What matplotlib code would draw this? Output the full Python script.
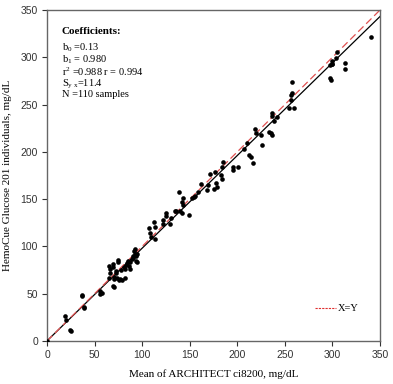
import matplotlib
matplotlib.use("Agg")
import matplotlib.pyplot as plt
from matplotlib.lines import Line2D
import numpy as np

# Data (Mean of ARCHITECT ci8200 vs HemoCue)
architect = [0, 19, 20, 24, 25, 37, 37, 39, 39, 56, 56, 58,
             65, 66, 66, 65, 69, 69, 70, 70, 69, 70, 72, 73, 74, 75, 75, 76, 77, 78,
             79, 82, 81, 82, 83, 84, 85, 86, 87, 87, 89, 90, 91, 92, 92, 94, 95, 95, 94, 90,
             107, 108, 109, 112, 113, 114, 122, 122, 125, 125, 129, 130, 134, 136, 139, 140,
             142, 142, 143, 143, 149, 152, 154, 156, 159, 162, 168, 169, 171, 175, 177, 178,
             179, 183, 184, 185, 184, 196, 201, 195, 207, 210, 212, 214, 217, 219, 220, 225,
             226, 233, 235, 236, 236, 236, 239, 242, 254, 256, 256, 258, 258, 260,
             297, 299, 299, 297, 298, 299, 304, 305, 313, 313, 340]
hemocue = [0, 26, 22, 12, 11, 49, 48, 36, 35, 53, 50, 51,
           79, 76, 72, 67, 81, 78, 68, 66, 58, 57, 74, 72, 67, 86, 84, 65, 66, 75,
           64, 67, 78, 76, 80, 82, 85, 79, 76, 83, 87, 90, 95, 97, 92, 90, 92, 84, 85, 88,
           119, 114, 110, 126, 121, 108, 128, 124, 135, 132, 124, 130, 137, 137, 158, 137,
           135, 147, 144, 151, 133, 151, 152, 153, 158, 166, 160, 165, 177, 161, 179, 167,
           163, 176, 171, 189, 184, 184, 184, 181, 203, 209, 197, 195, 188, 224, 220, 218,
           207, 221, 220, 218, 241, 238, 233, 237, 246, 255, 260, 262, 274, 246,
           292, 296, 293, 278, 276, 293, 299, 306, 294, 288, 321]

b0, b1 = 0.13, 0.980
x_line = [0, 350]

plt.rcParams['font.family'] = ['Liberation Sans', 'DejaVu Sans']
plt.rcParams['mathtext.fontset'] = 'custom'
plt.rcParams['mathtext.rm'] = 'Liberation Serif'
plt.rcParams['mathtext.it'] = 'Liberation Serif:italic'

fig = plt.figure(figsize=(3.93, 3.84), dpi=100)
ax = fig.add_axes([0.1196, 0.112, 0.8474, 0.862])

ax.scatter(architect, hemocue, s=11, color='black', zorder=3, linewidths=0)
reg = np.array(x_line)
ax.plot(reg, b0 + b1 * reg, color='black', lw=0.9, zorder=2)
ax.plot(x_line, x_line, color='#e05050', lw=0.9, ls=(0, (6, 3)), zorder=2)

ax.set_xlim(0, 350)
ax.set_ylim(0, 350)
ticks = [0, 50, 100, 150, 200, 250, 300, 350]
ax.set_xticks(ticks)
ax.set_yticks(ticks)
ax.tick_params(direction='out', length=3.5, width=0.8, labelsize=7.5, colors='#333333',
               top=False, right=False, pad=3)
for s in ax.spines.values():
    s.set_color('#666666')
    s.set_linewidth(1.0)

serif = ['Liberation Serif', 'DejaVu Serif']
ax.set_xlabel('Mean of ARCHITECT ci8200, mg/dL', family=serif, fontsize=8, labelpad=7)
ax.set_ylabel('HemoCue Glucose 201 individuals, mg/dL', family=serif, fontsize=8, labelpad=6)

ax.text(0.045, 0.948, 'Coefficients:', transform=ax.transAxes, family=serif,
        fontsize=8, fontweight='bold', va='top')
lines = [r'b$_0$ =0.13', r'b$_1$ = 0.980', r'r$^2$ =0.988 r = 0.994',
         r'S$_{\mathregular{y\ x}}$=11.4', 'N =110 samples']
for i, t in enumerate(lines):
    ax.text(0.045, 0.906 - i * 0.037, t, transform=ax.transAxes, family=serif,
            fontsize=7.5, va='top')

handle = Line2D([], [], color='#e03030', lw=0.8, ls=(0, (2, 1)))
ax.legend([handle], ['X=Y'], loc='lower right', bbox_to_anchor=(0.965, 0.055),
          frameon=False, handlelength=2.0, handletextpad=0.2,
          prop={'family': serif, 'size': 7.5})

fig.savefig('out.png', dpi=100)
